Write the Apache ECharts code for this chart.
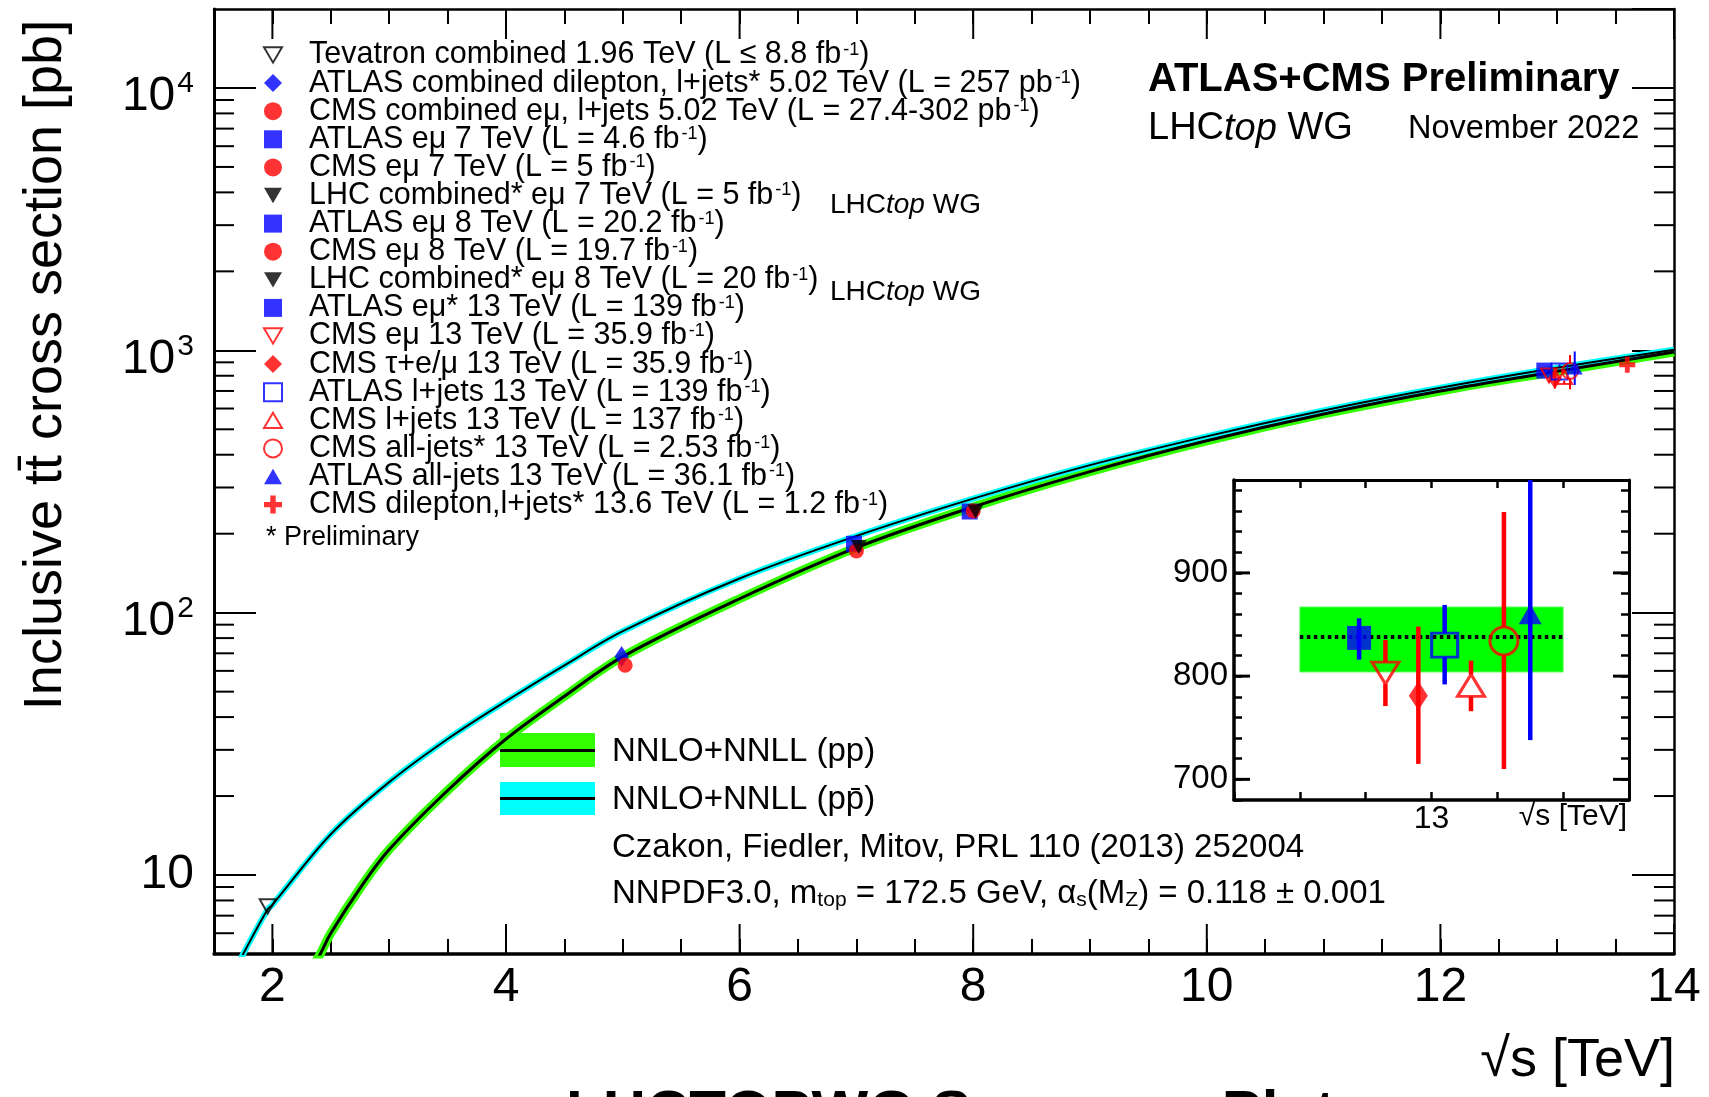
<!DOCTYPE html>
<html>
<head>
<meta charset="utf-8">
<title>Inclusive ttbar cross section</title>
<script src="https://cdn.jsdelivr.net/npm/echarts@6/dist/echarts.min.js"></script>
<style>
  html, body { margin: 0; padding: 0; background: #fff; }
  #chart { width: 1709px; height: 1097px; }
</style>
</head>
<body>
<div id="chart"></div>
<script type="text/javascript">
var FONT = '"Liberation Sans", Arial, Helvetica, sans-serif';

// NNLO+NNLL predictions: [sqrt(s) TeV, sigma pb]
var ppCurve = [[2.36, 4.6], [2.41, 5.0], [2.5, 6.0], [2.75, 8.9], [3.0, 12.5], [3.5, 21], [4.0, 33], [4.5, 48], [5.0, 68],
  [6.0, 113], [7.0, 177], [8.0, 253], [9.0, 345], [10, 452], [11, 572], [12, 700], [13, 832], [14, 985]];
var ppbarCurve = [[1.70, 4.5], [1.76, 5.1], [1.96, 7.4], [2.0, 7.7], [2.5, 14.3], [3.0, 22.6], [3.5, 33], [4.0, 46], [4.5, 63],
  [5.0, 85], [6.0, 135], [7.0, 196], [8.0, 272], [9.0, 365], [10, 470], [11, 590], [12, 720], [13, 858], [14, 1005]];

// measurements: [sqrt(s), sigma, lower edge, upper edge]
var tevatron = [[1.96, 7.6]];
var atlasComb5 = [[4.99, 68]];
var cmsComb5 = [[5.02, 63]];
var atlasEmu7 = [[6.98, 183]];
var cmsEmu7 = [[7.0, 172]];
var lhcComb7 = [[7.02, 178]];
var atlasEmu8 = [[7.97, 243]];
var cmsEmu8 = [[8.0, 244]];
var lhcComb8 = [[8.02, 243]];
var atlasEmu13 = [[12.89, 837, 816, 856]];
var cmsEmu13 = [[12.93, 803, 771, 835]];
var cmsTau13 = [[12.98, 781, 715, 848]];
var atlasLjets13 = [[13.02, 830, 792, 869]];
var cmsLjets13 = [[13.06, 791, 766, 815]];
var cmsAllJets13 = [[13.11, 834, 710, 959]];
var atlasAllJets13 = [[13.15, 860, 738, 990]];
var cmsDilep136 = [[13.6, 881]];
// 13 TeV prediction in the inset: x from, x to, low, high, central
var theory13 = [12.8, 13.2, 804, 867, 838];

// tick positions
var xLabelTicks = [2, 4, 6, 8, 10, 12, 14];
var yMinorTicks = [6, 7, 8, 9, 20, 30, 40, 50, 60, 70, 80, 90, 200, 300, 400, 500, 600, 700, 800, 900,
  2000, 3000, 4000, 5000, 6000, 7000, 8000, 9000];
var insetYLabelTicks = [700, 800, 900];

var DOWN = 'path://M0,0L20,0L10,17Z';
var UP = 'path://M10,0L20,17L0,17Z';
var CROSS = 'path://M3.5,0H6.5V3.5H10V6.5H6.5V10H3.5V6.5H0V3.5H3.5Z';

var pointDefs = [
  {name: 'Tevatron combined 1.96 TeV (L ≤ 8.8 fb-1)', data: tevatron, symbol: DOWN, size: [16, 14], color: '#000000', open: true},
  {name: 'ATLAS combined dilepton, l+jets* 5.02 TeV (L = 257 pb-1)', data: atlasComb5, symbol: 'diamond', size: [14, 21], color: '#0000ff'},
  {name: 'CMS combined eμ, l+jets 5.02 TeV (L = 27.4-302 pb-1)', data: cmsComb5, symbol: 'circle', size: 15, color: '#ff0000'},
  {name: 'ATLAS eμ 7 TeV (L = 4.6 fb-1)', data: atlasEmu7, symbol: 'rect', size: 16, color: '#0000ff'},
  {name: 'CMS eμ 7 TeV (L = 5 fb-1)', data: cmsEmu7, symbol: 'circle', size: 15, color: '#ff0000'},
  {name: 'LHC combined* eμ 7 TeV (L = 5 fb-1)', data: lhcComb7, symbol: DOWN, size: [16, 14], color: '#000000'},
  {name: 'ATLAS eμ 8 TeV (L = 20.2 fb-1)', data: atlasEmu8, symbol: 'rect', size: 16, color: '#0000ff'},
  {name: 'CMS eμ 8 TeV (L = 19.7 fb-1)', data: cmsEmu8, symbol: 'circle', size: 15, color: '#ff0000'},
  {name: 'LHC combined* eμ 8 TeV (L = 20 fb-1)', data: lhcComb8, symbol: DOWN, size: [16, 14], color: '#000000'},
  {name: 'ATLAS eμ* 13 TeV (L = 139 fb-1)', data: atlasEmu13, symbol: 'rect', size: 16, color: '#0000ff', inset: 24, gap: 0},
  {name: 'CMS eμ 13 TeV (L = 35.9 fb-1)', data: cmsEmu13, symbol: DOWN, size: [16, 14], color: '#ff0000', open: true, inset: [27, 22], gap: 11},
  {name: 'CMS τ+e/μ 13 TeV (L = 35.9 fb-1)', data: cmsTau13, symbol: 'diamond', size: [14, 21], color: '#ff0000', inset: [19, 29], gap: 0},
  {name: 'ATLAS l+jets 13 TeV (L = 139 fb-1)', data: atlasLjets13, symbol: 'rect', size: 16, color: '#0000ff', open: true, inset: [26, 24], gap: 12},
  {name: 'CMS l+jets 13 TeV (L = 137 fb-1)', data: cmsLjets13, symbol: UP, size: [16, 14], color: '#ff0000', open: true, inset: [27, 22], gap: 11},
  {name: 'CMS all-jets* 13 TeV (L = 2.53 fb-1)', data: cmsAllJets13, symbol: 'circle', size: 16, color: '#ff0000', open: true, inset: 28, gap: 14},
  {name: 'ATLAS all-jets 13 TeV (L = 36.1 fb-1)', data: atlasAllJets13, symbol: UP, size: [16, 14], color: '#0000ff', inset: [23, 20], gap: 0},
  {name: 'CMS dilepton,l+jets* 13.6 TeV (L = 1.2 fb-1)', data: cmsDilep136, symbol: CROSS, size: 16, color: '#ff0000'}
];

function markerStyle(c, open, bw) {
  return open ? {color: 'rgba(0,0,0,0)', borderColor: c, borderWidth: bw} : {color: c, borderWidth: 0};
}

// vertical error bars, with a gap where a hollow marker sits
function errorBars(points, color, width, gap, xi, yi) {
  return {
    type: 'custom', xAxisIndex: xi, yAxisIndex: yi, silent: true, z: 8,
    dimensions: ['x', 'y', 'lo', 'hi'], encode: {x: 0, y: 1},
    data: points,
    renderItem: function (params, api) {
      var c = api.coord([api.value(0), api.value(1)]);
      var lo = api.coord([api.value(0), api.value(2)]);
      var hi = api.coord([api.value(0), api.value(3)]);
      var st = {stroke: color, lineWidth: width};
      return {type: 'group', children: [
        {type: 'line', shape: {x1: c[0], y1: hi[1], x2: c[0], y2: c[1] - gap}, style: st},
        {type: 'line', shape: {x1: c[0], y1: c[1] + gap, x2: c[0], y2: lo[1]}, style: st}
      ]};
    }
  };
}

// extra ticks on both opposite frame edges (long x ticks, log minor y ticks)
function edgeTicks(vals, dir, lo, hi, len, xi, yi, lw) {
  return {
    type: 'custom', xAxisIndex: xi, yAxisIndex: yi, silent: true, clip: false, z: 12,
    encode: {x: 0, y: 1},
    data: vals.map(function (v) { return dir === 'x' ? [v, lo] : [lo, v]; }),
    renderItem: function (params, api) {
      var v = vals[params.dataIndex];
      var st = {stroke: '#000', lineWidth: lw};
      var a, b;
      if (dir === 'x') {
        a = api.coord([v, lo]); b = api.coord([v, hi]);
        return {type: 'group', children: [
          {type: 'line', shape: {x1: a[0], y1: a[1], x2: a[0], y2: a[1] - len}, style: st},
          {type: 'line', shape: {x1: b[0], y1: b[1], x2: b[0], y2: b[1] + len}, style: st}
        ]};
      }
      a = api.coord([lo, v]); b = api.coord([hi, v]);
      return {type: 'group', children: [
        {type: 'line', shape: {x1: a[0], y1: a[1], x2: a[0] + len, y2: a[1]}, style: st},
        {type: 'line', shape: {x1: b[0], y1: b[1], x2: b[0] - len, y2: b[1]}, style: st}
      ]};
    }
  };
}

function curve(name, data, color, width, z) {
  return {type: 'line', name: name, xAxisIndex: 0, yAxisIndex: 0, data: data, symbol: 'none', smooth: 0.35,
    lineStyle: {color: color, width: width}, z: z, silent: true};
}

var series = [
  curve('pp band', ppCurve, '#33ff00', 9, 2),
  curve('ppbar band', ppbarCurve, '#00ffff', 6, 3),
  curve('pp central', ppCurve, '#000', 3, 4),
  curve('ppbar central', ppbarCurve, '#000', 2, 5),
  // inset theory band and central value
  {type: 'custom', xAxisIndex: 2, yAxisIndex: 2, silent: true, z: 2, encode: {x: [0, 1], y: [2, 3]},
    data: [theory13],
    renderItem: function (params, api) {
      var a = api.coord([api.value(0), api.value(3)]);
      var b = api.coord([api.value(1), api.value(2)]);
      return {type: 'rect', shape: {x: a[0], y: a[1], width: b[0] - a[0], height: b[1] - a[1]},
        style: {fill: '#00ff00', stroke: '#66ff66', lineWidth: 1}};
    }},
  {type: 'line', name: 'inset central', xAxisIndex: 2, yAxisIndex: 2, symbol: 'none', silent: true, z: 6,
    data: [[theory13[0], theory13[4]], [theory13[1], theory13[4]]],
    lineStyle: {color: '#000', width: 4, type: [3.5, 3.5]}},
  edgeTicks(xLabelTicks, 'x', 5, 20000, 30, 0, 0, 2),
  edgeTicks(yMinorTicks, 'y', 1.5, 14, 20, 0, 0, 2),
  edgeTicks(insetYLabelTicks, 'y', 12.7, 13.3, 16, 2, 2, 3)
];

pointDefs.forEach(function (d) {
  series.push({type: 'scatter', name: d.name, xAxisIndex: 0, yAxisIndex: 0, data: d.data,
    symbol: d.symbol, symbolSize: d.size, itemStyle: markerStyle(d.color, d.open, 2), z: 10});
  if (d.inset) {
    series.push(errorBars(d.data, d.color, 2, d.open ? 7 : 0, 0, 0));
    series.push(errorBars(d.data, d.color, 4.5, d.gap, 2, 2));
    series.push({type: 'scatter', name: 'inset: ' + d.name, xAxisIndex: 2, yAxisIndex: 2, data: d.data,
      symbol: d.symbol, symbolSize: d.inset, itemStyle: markerStyle(d.color, d.open, 3), z: 10});
  }
});

function frameAxis(extra) {
  var base = {
    axisLine: {show: true, onZero: false, lineStyle: {color: '#000', width: 2.5}},
    axisTick: {show: true, inside: true, length: 15, lineStyle: {color: '#000', width: 2}},
    axisLabel: {show: false},
    splitLine: {show: false},
    minorTick: {show: false}
  };
  for (var k in extra) base[k] = extra[k];
  return base;
}

var yLabelRich = {
  p: {fontSize: 48, lineHeight: 48, fontFamily: FONT, color: '#000'},
  b: {fontSize: 48, lineHeight: 48, fontFamily: FONT, color: '#000', padding: [18, 0, 0, 0]},
  s: {fontSize: 30, lineHeight: 30, fontFamily: FONT, color: '#000', verticalAlign: 'top', padding: [5, 0, 0, 2]}
};

function plainText(x, y, text, font, align) {
  return {type: 'text', x: x, y: y, silent: true,
    style: {text: text, font: font, fill: '#000', align: align || 'left', verticalAlign: 'middle',
      textAlign: align || 'left', textVerticalAlign: 'middle'}};
}

function lhcTopWG(x, y, size) {
  return {type: 'text', x: x, y: y, silent: true,
    style: {text: '{a|LHC}{i|top}{a| WG}', align: 'left', verticalAlign: 'middle', textAlign: 'left', textVerticalAlign: 'middle',
      rich: {a: {fontSize: size, fontFamily: FONT, color: '#000'},
        i: {fontSize: size, fontStyle: 'italic', fontFamily: FONT, color: '#000'}}}};
}

var myChart = echarts.init(document.getElementById('chart'), null, {renderer: 'canvas'});
var option = {
  animation: false,
  backgroundColor: '#ffffff',
  grid: [
    {left: 214, right: 35, top: 9, bottom: 143, outerBoundsMode: 'none'},
    {left: 1234, right: 80, top: 480, bottom: 297, show: true, backgroundColor: '#ffffff', borderWidth: 0, outerBoundsMode: 'none'}
  ],
  xAxis: [
    frameAxis({type: 'value', gridIndex: 0, min: 1.5, max: 14, interval: 0.5, position: 'bottom',
      axisLine: {show: true, onZero: false, lineStyle: {color: '#000', width: 3.5}},
      axisLabel: {show: true, fontSize: 48, fontFamily: FONT, color: '#000', margin: 10, showMaxLabel: true,
        formatter: function (v) { return xLabelTicks.indexOf(v) >= 0 ? String(v) : ''; }}}),
    frameAxis({type: 'value', gridIndex: 0, min: 1.5, max: 14, interval: 0.5, position: 'top'}),
    frameAxis({type: 'value', gridIndex: 1, min: 12.7, max: 13.3, interval: 0.1, position: 'bottom',
      axisLine: {show: true, onZero: false, lineStyle: {color: '#000', width: 3.5}},
      axisTick: {show: true, inside: true, length: 8, lineStyle: {color: '#000', width: 2.5}},
      axisLabel: {show: true, fontSize: 32, fontFamily: FONT, color: '#000', margin: 3,
        formatter: function (v) { return Math.abs(v - 13) < 1e-6 ? '13' : ''; }}}),
    frameAxis({type: 'value', gridIndex: 1, min: 12.7, max: 13.3, interval: 0.1, position: 'top',
      axisLine: {show: true, onZero: false, lineStyle: {color: '#000', width: 3}},
      axisTick: {show: true, inside: true, length: 8, lineStyle: {color: '#000', width: 2.5}}})
  ],
  yAxis: [
    frameAxis({type: 'log', logBase: 10, gridIndex: 0, min: 5, max: 20000, splitNumber: 4, position: 'left',
      axisLine: {show: true, onZero: false, lineStyle: {color: '#000', width: 3}},
      axisTick: {show: true, inside: true, length: 42, lineStyle: {color: '#000', width: 2}},
      axisLabel: {show: true, margin: 20, showMinLabel: false, showMaxLabel: false, rich: yLabelRich,
        formatter: function (v) {
          var l = Math.log10(v), e = Math.round(l);
          if (Math.abs(l - e) > 1e-6) return '';
          if (e === 1) return '{p|10}';
          return '{b|10}{s|' + e + '}';
        }}}),
    frameAxis({type: 'log', logBase: 10, gridIndex: 0, min: 5, max: 20000, splitNumber: 4, position: 'right',
      axisTick: {show: true, inside: true, length: 42, lineStyle: {color: '#000', width: 2}}}),
    frameAxis({type: 'value', gridIndex: 1, min: 680, max: 990, interval: 20, position: 'left',
      axisLine: {show: true, onZero: false, lineStyle: {color: '#000', width: 3.5}},
      axisTick: {show: true, inside: true, length: 8, lineStyle: {color: '#000', width: 2.5}},
      axisLabel: {show: true, fontSize: 33, fontFamily: FONT, color: '#000', margin: 6,
        formatter: function (v) { return insetYLabelTicks.indexOf(v) >= 0 ? String(v) : ''; }}}),
    frameAxis({type: 'value', gridIndex: 1, min: 680, max: 990, interval: 20, position: 'right',
      axisLine: {show: true, onZero: false, lineStyle: {color: '#000', width: 3}},
      axisTick: {show: true, inside: true, length: 8, lineStyle: {color: '#000', width: 2.5}}})
  ],
  legend: {
    data: pointDefs.map(function (d) { return d.name; }),
    orient: 'vertical', left: 258, top: 34.5, padding: 5,
    itemWidth: 18, itemHeight: 18, itemGap: -2.9,
    selectedMode: false,
    formatter: function (name) {
      return '{g| }{n|' + name.replace(/(fb|pb)-1/g, '$1}{u|-1}{n|') + '}';
    },
    textStyle: {
      fontFamily: FONT, fontSize: 30, color: '#000',
      rich: {
        g: {width: 22, lineHeight: 28, fontSize: 28},
        n: {fontSize: 30.5, lineHeight: 28, fontFamily: FONT, color: '#000'},
        u: {fontSize: 18, lineHeight: 8, verticalAlign: 'top', fontFamily: FONT, color: '#000', padding: [0, 0, 0, 2]}
      }
    }
  },
  graphic: [
    {type: 'text', x: 46, y: 365, rotation: Math.PI / 2, silent: true,
      style: {text: 'Inclusive t' + 't\u0304' + ' cross section [pb]', font: '54px ' + FONT, fill: '#000',
        align: 'center', verticalAlign: 'middle', textAlign: 'center', textVerticalAlign: 'middle'}},
    plainText(1675, 1061, '\u221As [TeV]', '54px ' + FONT, 'right'),
    {type: 'text', x: 566, y: 1085, silent: true,
      style: {text: 'LHCTOPWG Summary Plots', font: 'bold 60px ' + FONT, fill: '#000',
        align: 'left', verticalAlign: 'top', textAlign: 'left', textVerticalAlign: 'top'}},
    plainText(266, 538, '* Preliminary', '27px ' + FONT),
    lhcTopWG(830, 205, 28),
    lhcTopWG(830, 292, 28),
    plainText(1148, 80, 'ATLAS+CMS Preliminary', 'bold 40px ' + FONT),
    lhcTopWG(1148, 129, 38),
    plainText(1408, 129, 'November 2022', '32.5px ' + FONT),
    // theory legend
    {type: 'rect', silent: true, shape: {x: 500, y: 733, width: 95, height: 34}, style: {fill: '#33ff00'}},
    {type: 'line', silent: true, shape: {x1: 500, y1: 750.5, x2: 595, y2: 750.5}, style: {stroke: '#000', lineWidth: 3}},
    {type: 'rect', silent: true, shape: {x: 500, y: 782, width: 95, height: 33}, style: {fill: '#00ffff'}},
    {type: 'line', silent: true, shape: {x1: 500, y1: 798.5, x2: 595, y2: 798.5}, style: {stroke: '#000', lineWidth: 3}},
    plainText(612, 752, 'NNLO+NNLL (pp)', '33px ' + FONT),
    plainText(612, 800, 'NNLO+NNLL (pp\u0304)', '33px ' + FONT),
    plainText(612, 848, 'Czakon, Fiedler, Mitov, PRL 110 (2013) 252004', '33px ' + FONT),
    {type: 'text', x: 612, y: 894, silent: true,
      style: {text: '{n|NNPDF3.0, m}{d|top}{n| = 172.5 GeV, α}{d|s}{n|(M}{d|Z}{n|) = 0.118 ± 0.001}',
        align: 'left', verticalAlign: 'middle', textAlign: 'left', textVerticalAlign: 'middle',
        rich: {
          n: {fontSize: 33, lineHeight: 33, fontFamily: FONT, color: '#000'},
          d: {fontSize: 21, lineHeight: 4, verticalAlign: 'bottom', fontFamily: FONT, color: '#000'}
        }}},
    plainText(1627, 817, '\u221As [TeV]', '30px ' + FONT, 'right')
  ],
  series: series
};
myChart.setOption(option);
</script>
</body>
</html>
